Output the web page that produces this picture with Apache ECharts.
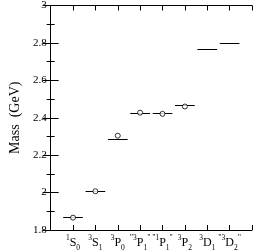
<!DOCTYPE html>
<html><head><meta charset="utf-8">
<script src="https://cdn.jsdelivr.net/npm/echarts@6/dist/echarts.min.js"></script>
<style>html,body{margin:0;padding:0;background:#fff}#c{width:255px;height:252px}</style>
</head><body><div id="c"></div>
<script>
// states (x positions 1..8)
const stateLabels = ['{sup|1}{m|S}{sub|0}', '{sup|3}{m|S}{sub|1}', '{sup|3}{m|P}{sub|0}', '{q|"}{sup|3}{m|P}{sub|1}{q|"}', '{q|"}{sup|1}{m|P}{sub|1}{q|"}', '{sup|3}{m|P}{sub|2}', '{sup|3}{m|D}{sub|1}', '{q|"}{sup|3}{m|D}{sub|2}{q|"}'];
const statePos = [1, 2, 3, 4, 5, 6, 7, 8];
// horizontal bars (theory)
const barMass = [1.867, 2.011, 2.286, 2.423, 2.424, 2.467, 2.765, 2.802];
// circles (experiment)
const circlePos = [1, 2, 3, 4, 5, 6];
const circleMass = [1.866, 2.007, 2.304, 2.427, 2.421, 2.460];
const yTicks = ['1.8', '2', '2.2', '2.4', '2.6', '2.8', '3'];

const chart = echarts.init(document.getElementById('c'));
const font = 'Liberation Serif';
const grid = {left: 33, right: 3, top: 5, bottom: 21};
chart.setOption({
  animation: false,
  grid: grid,
  xAxis: [{
    type: 'value', min: 0, max: 9, interval: 1, position: 'bottom',
    axisLine: {lineStyle: {color: '#000', width: 1}},
    axisTick: {inside: true, length: 5, lineStyle: {color: '#000'}},
    splitLine: {show: false},
    axisLabel: {
      margin: 4, fontFamily: font, color: '#000',
      formatter: v => (v >= 1 && v <= 8) ? stateLabels[v - 1] : '',
      rich: {
        m: {fontSize: 12, fontFamily: font, color: '#000', lineHeight: 18, verticalAlign: 'middle'},
        q: {fontSize: 8, fontFamily: font, color: '#000', lineHeight: 18, verticalAlign: 'top', padding: [0, 0, 4, 0]},
        sup: {fontSize: 7.5, fontFamily: font, color: '#000', verticalAlign: 'top', lineHeight: 18, padding: [0, 0, 5, 0]},
        sub: {fontSize: 7.5, fontFamily: font, color: '#000', verticalAlign: 'bottom', lineHeight: 18, padding: [6, 0, 0, 0]}
      }
    }
  }, {
    type: 'value', min: 0, max: 9, interval: 1, position: 'top',
    axisLine: {show: true, lineStyle: {color: '#000', width: 1}},
    axisTick: {show: true, inside: true, length: 5, lineStyle: {color: '#000'}},
    axisLabel: {show: false}, splitLine: {show: false}
  }],
  yAxis: [{
    type: 'value', min: 1.8, max: 3, interval: 0.2, position: 'left',
    name: 'Mass  (GeV)', nameLocation: 'middle', nameGap: 16,
    nameTextStyle: {fontFamily: font, fontSize: 14, color: '#000'},
    axisLine: {show: true, lineStyle: {color: '#000', width: 1}},
    axisTick: {show: true, inside: true, length: 8, lineStyle: {color: '#000'}},
    minorTick: {show: true, splitNumber: 2, length: 4, lineStyle: {color: '#000'}},
    splitLine: {show: false},
    axisLabel: {margin: 4, fontFamily: font, fontSize: 11, color: '#000',
      formatter: v => yTicks[Math.round((v - 1.8) / 0.2)]}
  }, {
    type: 'value', min: 1.8, max: 3, interval: 0.2, position: 'right',
    axisLine: {show: true, lineStyle: {color: '#000', width: 1}},
    axisTick: {show: true, inside: true, length: 8, lineStyle: {color: '#000'}},
    minorTick: {show: true, splitNumber: 2, length: 4, lineStyle: {color: '#000'}},
    axisLabel: {show: false}, splitLine: {show: false}
  }],
  series: [{
    type: 'custom',
    data: statePos.map((x, i) => [x, barMass[i]]),
    renderItem: function (params, api) {
      const x = api.value(0), y = api.value(1);
      const p1 = api.coord([x - 0.44, y]);
      const p2 = api.coord([x + 0.44, y]);
      const yy = Math.round(p1[1]) + 0.5;
      return {type: 'line', shape: {x1: p1[0], y1: yy, x2: p2[0], y2: yy},
        style: {stroke: '#000', lineWidth: 1}};
    },
    z: 2
  }, {
    type: 'scatter',
    data: circlePos.map((x, i) => [x, circleMass[i]]),
    symbol: 'circle', symbolSize: 5,
    itemStyle: {color: '#fff', borderColor: '#000', borderWidth: 1},
    z: 3
  }]
});
</script></body></html>
